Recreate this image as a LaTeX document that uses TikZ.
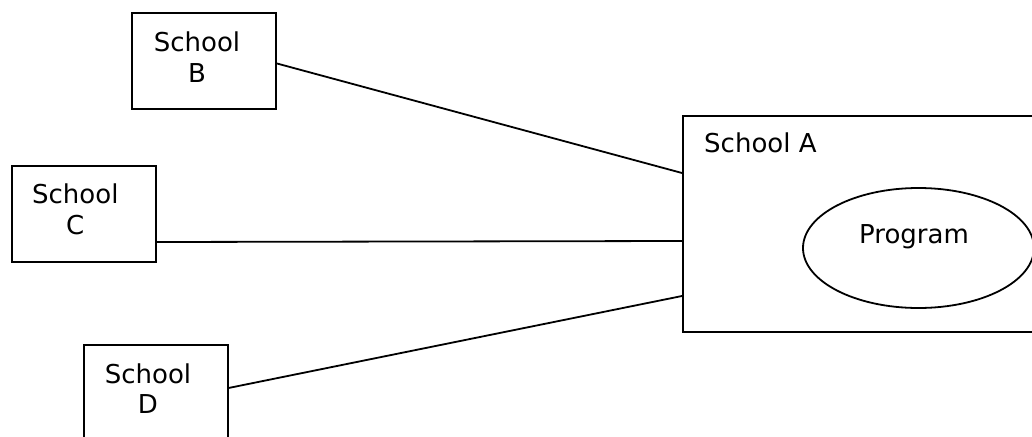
\documentclass[tikz,border=0pt]{standalone}
\usepackage{fontspec}
\setmainfont{DejaVu Sans}
\usetikzlibrary{shapes.geometric}
\begin{document}
\begin{tikzpicture}[x=1pt,y=-1pt,
  box/.style={draw=black, line width=2pt, minimum width=144pt, minimum height=96pt, inner sep=0pt},
  txt/.style={font=\fontsize{26pt}{30.6pt}\selectfont, align=center, inner sep=0pt},
  link/.style={draw=black, line width=1.8pt}]
\useasboundingbox (0,0) rectangle (1032,436);
\clip (0,0) rectangle (1032,436);
\fill[white] (0,0) rectangle (1032,436);
% boxes
\node[box] (B) at (204,61) {};
\node[box] (C) at (84,214) {};
\node[box] (D) at (155.5,393) {};
\node[box, minimum width=357pt, minimum height=216pt] (A) at (861.5,224) {};
\node[draw=black, line width=1.8pt, ellipse, minimum width=231pt, minimum height=120pt, inner sep=0pt] (P) at (918.5,248) {};
% texts
\node[txt] (tB) at (197,57.4) {School\\B};
\node[txt] (tC) at (75.3,209.4) {School\\C};
\node[txt] (tD) at (148,388.7) {School\\D};
\node[txt, anchor=base west] (tA) at (704,152.7) {School A};
\node[txt, anchor=base] (tP) at (914,243.3) {Program};
% connectors
\draw[link] ([yshift=-2.5pt]B.east) -- ([yshift=-58pt]A.north west);
\draw[link] ([yshift=-28pt]C.east) -- ([yshift=-126pt]A.north west);
\draw[link] ([yshift=5pt]D.east) -- ([yshift=-181pt]A.north west);
\end{tikzpicture}
\end{document}
